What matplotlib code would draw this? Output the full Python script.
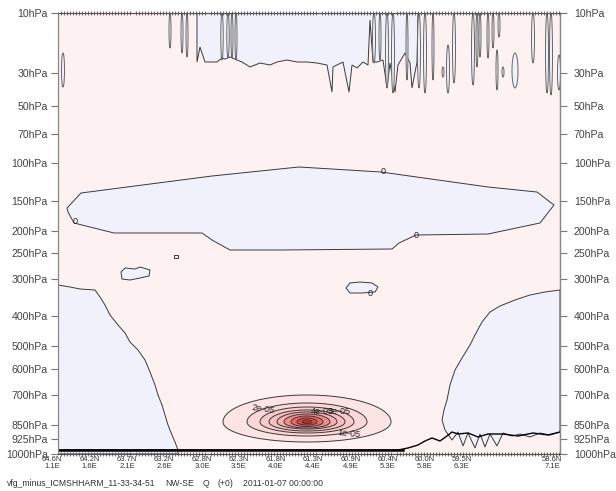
import numpy as np
import matplotlib
matplotlib.use("Agg")
import matplotlib.pyplot as plt
import matplotlib.transforms as mtransforms
from matplotlib.patches import Polygon
from matplotlib.colors import LinearSegmentedColormap
from matplotlib.ticker import FixedLocator, MultipleLocator

plt.rcParams['font.family'] = ['Liberation Sans', 'DejaVu Sans']

# section position (0..502) and level coordinate (0 = 10hPa, 441 = 1000hPa)
x_tick_pos = [0, 37.5, 75, 112, 150, 187, 224, 261, 299, 336, 373, 410, 500]
lat_labels = ['64.6N', '64.2N', '63.7N', '63.2N', '62.8N', '62.3N', '61.8N',
              '61.3N', '60.9N', '60.4N', '60.0N', '59.5N', '58.6N']
lon_labels = ['1.1E', '1.6E', '2.1E', '2.6E', '3.0E', '3.5E', '4.0E',
              '4.4E', '4.9E', '5.3E', '5.8E', '6.3E', '7.1E']
p_labels = [10, 30, 50, 70, 100, 150, 200, 250, 300, 400, 500, 600, 700, 850, 925, 1000]
p_pos = [0, 60, 93, 121, 150, 188, 218, 240, 266, 303, 333, 356, 382, 412, 426, 441]

# negative (Q < 0) areas
upper_lens = [(9, 195), (23, 180), (154, 163), (241, 154), (323, 159), (430, 174),
              (479, 179), (492, 189), (496, 192), (482, 210), (430, 221), (358, 222),
              (341, 230), (334, 236), (223, 237), (172, 237), (154, 227), (144, 220),
              (56, 220), (16, 210), (10, 199)]
top_band = [(139, 0), (139, 49), (142, 34), (144, 40), (147, 49), (159, 49), (164, 45),
            (167, 46), (172, 44), (179, 47), (184, 49), (192, 54), (202, 50), (212, 52),
            (219, 49), (229, 47), (239, 49), (249, 49), (259, 50), (269, 52), (274, 79),
            (275, 54), (285, 49), (291, 79), (294, 52), (299, 55), (305, 49), (310, 52),
            (312, 7), (315, 49), (319, 49), (325, 47), (329, 75), (332, 50), (337, 79),
            (340, 52), (347, 40), (352, 50), (354, 75), (359, 49), (360, 0)]
blob_left = [(63, 259), (67, 255), (77, 256), (82, 254), (92, 257), (91, 263),
             (82, 265), (72, 267), (64, 266)]
blob_right = [(288, 275), (292, 270), (302, 269), (314, 270), (320, 274), (317, 279),
              (304, 280), (292, 280)]
blob_tiny = [(116, 242), (120, 242), (120, 245), (116, 245)]
low_left = [(0, 272), (12, 274), (22, 276), (37, 277), (42, 284), (47, 292), (52, 302),
            (60, 312), (67, 320), (72, 329), (80, 337), (87, 347), (92, 359), (97, 372),
            (100, 382), (104, 392), (107, 402), (110, 412), (114, 422), (117, 429),
            (120, 437), (120, 441), (0, 441)]
low_right = [(502, 277), (487, 279), (472, 282), (457, 287), (442, 293), (432, 299),
             (424, 309), (417, 322), (412, 332), (404, 345), (397, 357), (392, 372),
             (389, 387), (386, 397), (384, 407), (387, 417), (394, 427), (400, 419),
             (405, 433), (410, 420), (417, 435), (422, 421), (427, 434), (432, 421),
             (439, 433), (445, 420), (454, 423), (462, 421), (472, 424), (482, 420),
             (492, 422), (502, 419)]
# near-surface contour
surf_x = [0, 340, 350, 360, 367, 374, 382, 389, 394, 400, 410, 420, 430, 445, 460, 475, 490, 502]
surf_y = [437, 437, 435, 432, 428, 425, 428, 423, 419, 421, 420, 424, 421, 421, 423, 420, 422, 419]

# thin vertical lenses near the top: x, top, bottom, half width
spikes = [(5, 40, 74, 1.5), (112, 0, 35, 1), (124, 0, 40, 1), (129, 0, 44, 1),
          (164, 0, 47, 1.2), (170, 0, 45, 1.2), (174, 0, 45, 1), (178, 0, 47, 1),
          (316, 0, 50, 1.5), (322, 0, 47, 1), (329, 0, 75, 1.5), (335, 0, 80, 1.5),
          (349, 0, 67, 1), (361, 0, 75, 1.5), (367, 0, 80, 1.5), (375, 0, 67, 1),
          (385, 54, 64, 1), (390, 32, 80, 1.5), (396, 0, 70, 1.5), (415, 0, 72, 1.5),
          (419, 0, 54, 1), (422, 0, 44, 1), (430, 0, 45, 1), (435, 0, 35, 1),
          (439, 37, 77, 1), (441, 0, 24, 1), (445, 54, 64, 1), (457, 40, 75, 3),
          (475, 0, 50, 1.5), (489, 0, 80, 1.5), (493, 0, 82, 1.5), (501, 42, 77, 1.5)]

# positive maximum near 850hPa: level, half width, radius up, radius down
q_levels = ['1e-05', '2e-05', '3e-05', '4e-05', '5e-05', '6e-05', '7e-05', '8e-05', '9e-05']
q_hw = [84, 60, 47, 38, 30, 23, 16, 10, 5]
q_up = [27, 19, 15, 12, 10, 8, 6, 4, 2]
q_dn = [20, 14, 11, 9, 7, 6, 4.5, 3, 1.5]
q_cx, q_cy = 249, 409

pink = '#fdf1f1'
blue = '#f1f1fc'
line_c = '#3a3a3a'

fig = plt.figure(figsize=(6.16, 4.91), dpi=100)
ax = fig.add_axes([58 / 616, 1 - 454 / 491, 502 / 616, 441 / 491])
ax.set_facecolor(pink)
ax.set_xlim(0, 502)
ax.set_ylim(441, 0)

for poly in [upper_lens, top_band, blob_left, blob_right, blob_tiny, low_left, low_right]:
    ax.add_patch(Polygon(poly, closed=True, facecolor=blue, edgecolor=line_c, lw=0.7))

t = np.linspace(0, np.pi, 20)
for sx, top, bot, w in spikes:
    ys = top + (bot - top) * (1 - np.cos(t)) / 2
    xs = sx + w * np.sin(t)
    pts = list(zip(xs, ys)) + list(zip(2 * sx - xs[::-1], ys[::-1]))
    ax.add_patch(Polygon(pts, closed=True, facecolor=blue, edgecolor='#666666', lw=0.7))

ax.plot(surf_x, surf_y, color='black', lw=1.0)
ax.plot([0, 345], [437, 437], color='black', lw=1.8)

cmap = LinearSegmentedColormap.from_list('q', ['#fce4e4', '#f7b0b0', '#e4201f'])
th = np.linspace(0, 2 * np.pi, 200)
n = len(q_levels)
for i in range(n):
    r = np.where(np.sin(th) > 0, q_up[i], q_dn[i])
    ex = q_cx + q_hw[i] * np.cos(th)
    ey = q_cy - r * np.sin(th)
    ax.fill(ex, ey, facecolor=cmap(i / (n - 1)), edgecolor=line_c, lw=0.7)

lab_kw = dict(fontsize=6.5, color='#222222', ha='center', va='center')
ax.text(205, 396, '2e-05', rotation=-8, **lab_kw)
ax.text(264, 399, '4e-05', **lab_kw)
ax.text(281, 399, '3e-05', **lab_kw)
ax.text(291, 421, '1e-05', rotation=-6, **lab_kw)
for zx, zy in [(325, 159), (358, 222), (17, 209), (312, 280)]:
    ax.text(zx, zy, '0', **lab_kw)

# axes
ylab = [f'{p}hPa' for p in p_labels]
ax.yaxis.set_major_locator(FixedLocator(p_pos))
ax.set_yticklabels(ylab)
ax.tick_params(axis='y', which='major', left=True, right=False, labelleft=True,
               length=5, width=0.8, color='#777777',
               labelsize=7.6, labelcolor='#444444', pad=2.5)
sec = ax.secondary_yaxis('right')
sec.set_yticks(p_pos, labels=ylab)
sec.tick_params(length=5, width=0.8, color='#777777', labelsize=7.6,
                labelcolor='#444444', pad=5)
sec.spines['right'].set_color('#888888')
sec.spines['right'].set_linewidth(0.9)

ax.xaxis.set_major_locator(FixedLocator(x_tick_pos))
ax.set_xticklabels([a + '\n' + b for a, b in zip(lat_labels, lon_labels)])
ax.tick_params(axis='x', which='major', length=0, labelsize=5.5,
               labelcolor='#333333', pad=1.5)
ax.xaxis.set_minor_locator(MultipleLocator(3))
ax.tick_params(axis='x', which='minor', top=True, bottom=True, direction='inout',
               length=2.5, width=0.6, color='#555555')
shift = mtransforms.ScaledTranslation(-6 / 100, 0, fig.dpi_scale_trans)
for lab in ax.get_xticklabels():
    lab.set_linespacing(0.95)
    lab.set_transform(lab.get_transform() + shift)
for s in ax.spines.values():
    s.set_color('#888888')
    s.set_linewidth(0.9)
ax.spines['top'].set_color('#555555')
ax.spines['bottom'].set_color('#555555')

cap_kw = dict(fontsize=6.2, color='#333333', va='center')
fig.text(7 / 616, 1 - 483 / 491, 'vfg_minus_ICMSHHARM_11-33-34-51', **cap_kw)
fig.text(165 / 616, 1 - 483 / 491, 'NW-SE', **cap_kw)
fig.text(203 / 616, 1 - 483 / 491, 'Q', **cap_kw)
fig.text(218 / 616, 1 - 483 / 491, '(+0)', **cap_kw)
fig.text(243 / 616, 1 - 483 / 491, '2011-01-07 00:00:00', **cap_kw)

fig.savefig('out.png', dpi=100)
